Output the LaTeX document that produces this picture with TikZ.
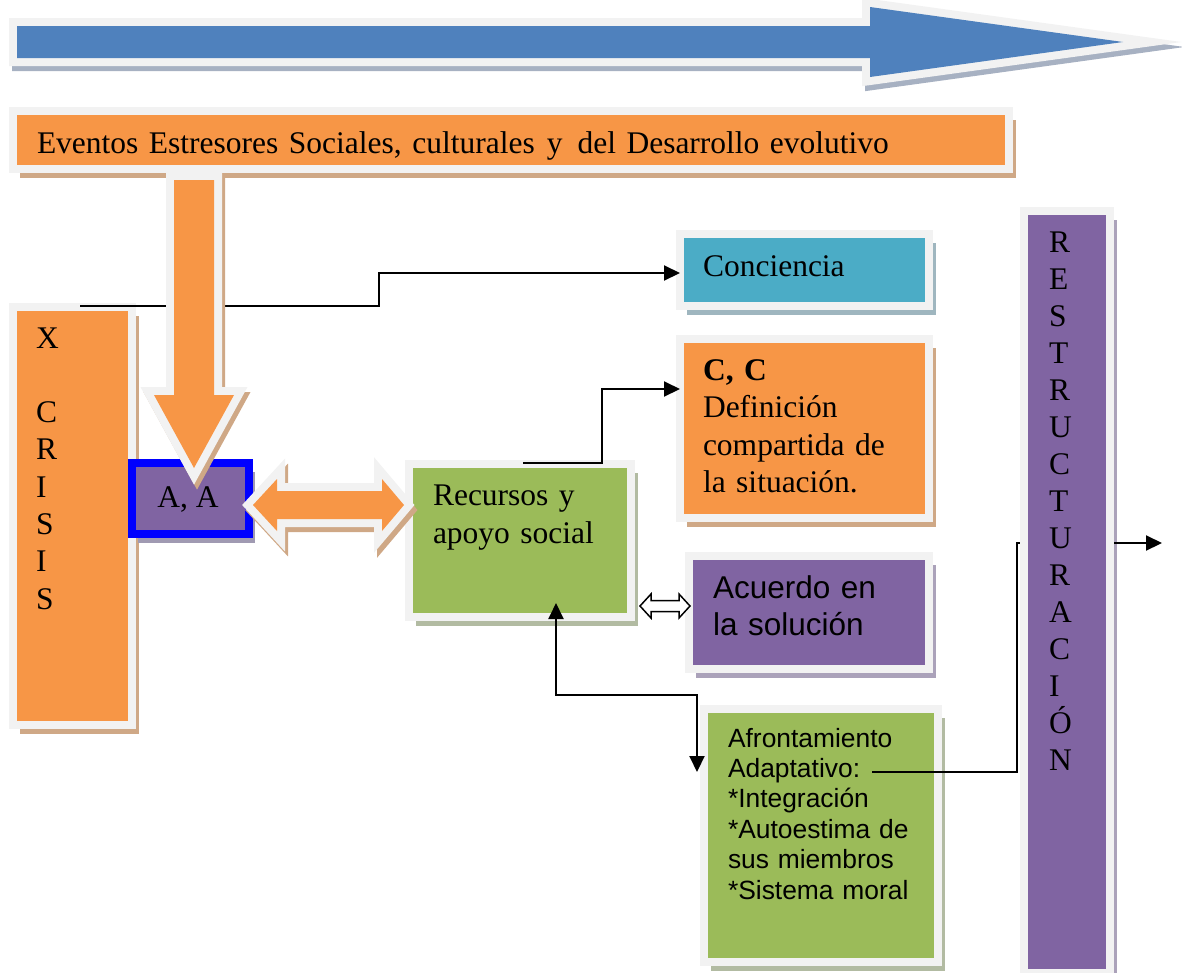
\documentclass[tikz,border=0pt]{standalone}
\usepackage{fontspec}
\setmainfont{Liberation Serif}
\newfontfamily\arialfont{Liberation Sans}
\usetikzlibrary{arrows.meta,shadows}
\definecolor{framegrey}{HTML}{F2F2F2}
\definecolor{boxorange}{HTML}{F79646}
\definecolor{orsh}{HTML}{CFA886}
\definecolor{boxgreen}{HTML}{9BBB59}
\definecolor{grsh}{HTML}{B2BBA2}
\definecolor{boxpurple}{HTML}{8064A2}
\definecolor{pusm}{HTML}{ABA2BA}
\definecolor{boxteal}{HTML}{4BACC6}
\definecolor{tesh}{HTML}{9FB6BF}
\definecolor{arrowblue}{HTML}{4F81BD}
\definecolor{blsh}{HTML}{A7B1C2}
\definecolor{aaborder}{HTML}{0000FF}
\definecolor{aash}{HTML}{A09AB2}
\begin{document}
\begin{tikzpicture}[x=1pt, y=-1pt,
  panel/.style 2 args={rectangle, inner sep=0pt, outer sep=0pt, anchor=north west,
    draw=framegrey, line width=8pt, fill=#1,
    drop shadow={shadow xshift=7pt, shadow yshift=-9pt, fill=#2, opacity=1}},
  blockarrow/.style 2 args={fill=#1,
    preaction={draw=#2, fill=#2, line width=16pt, transform canvas={shift={(3pt,-5pt)}}},
    preaction={draw=framegrey, line width=16pt}},
  link/.style={draw=black, line width=2pt},
  arrowto/.style={-{Triangle[length=16pt,width=15pt]}},
  arrowboth/.style={{Triangle[length=16pt,width=15pt]}-{Triangle[length=16pt,width=15pt]}},
  txt/.style={inner sep=0pt, outer sep=0pt, text width=400pt, align=left, anchor=base west},
  serif/.style={txt, font=\fontsize{31.5}{37.5}\selectfont},
  sans/.style={txt, font=\arialfont\fontsize{31.5}{37}\selectfont},
  smallsans/.style={txt, font=\arialfont\fontsize{26.4}{30.4}\selectfont}]

\useasboundingbox (0,0) rectangle (1182,972);

% panels: grey frame, coloured body, drop shadow
\node[panel={boxorange}{orsh}, minimum width=996pt, minimum height=58pt] (banner) at (13,111) {};
\node[panel={boxorange}{orsh}, minimum width=119pt, minimum height=418pt] (crisis) at (13,307) {};
\node[panel={boxteal}{tesh}, minimum width=249pt, minimum height=72pt] (con) at (680,234) {};
\node[panel={boxorange}{orsh}, minimum width=249pt, minimum height=179pt] (cc) at (680,339) {};
\node[panel={boxgreen}{grsh}, minimum width=222pt, minimum height=153pt] (rec) at (409,464) {};
\node[panel={boxpurple}{pusm}, minimum width=240pt, minimum height=113pt] (acu) at (689,556) {};
\node[panel={boxgreen}{grsh}, minimum width=234pt, minimum height=253pt] (afr) at (704,709) {};
\node[panel={boxpurple}{pusm}, minimum width=86pt, minimum height=762pt] (res) at (1024,211) {};

% A, A box with blue border
\node[rectangle, inner sep=0pt, outer sep=0pt, anchor=north west, draw=aaborder, line width=8pt,
  fill=boxpurple, minimum width=117pt, minimum height=71pt,
  drop shadow={shadow xshift=6pt, shadow yshift=-9pt, fill=aash, opacity=1}] (aa) at (132,463) {};

% connectors
\coordinate (cstart) at ([shift={(7.5,-1)}]crisis.north);
\coordinate (cend) at ([shift={(0,3)}]con.west);
\draw[link, arrowto] (cstart) -- ++(299,0) |- (cend);

\coordinate (rstart) at ([shift={(3,-1)}]rec.north);
\coordinate (rend) at ([shift={(0,-39.5)}]cc.west);
\draw[link, arrowto] (rstart) -- ++(79,0) |- (rend);

\coordinate (ra) at ([shift={(36,-14)}]rec.south);
\coordinate (ab) at ([shift={(-7,-63.5)}]afr.west);
\draw[link, arrowboth] (ra) -- ++(0,92) -| (ab);

\coordinate (adapt) at ([shift={(168,63)}]afr.north west);
\coordinate (rin) at ([shift={(-4,-49)}]res.west);
\draw[link] (adapt) -- ++(145,0) |- (rin);

\coordinate (rout) at ([shift={(4,-49)}]res.east);
\coordinate (out) at (1162,543);
\draw[link, arrowto] (rout) -- (out);

% hollow double arrow between Recursos and Acuerdo
\coordinate (d1) at ([shift={(9,65.5)}]rec.east);
\coordinate (d2) at ([shift={(1,-6.5)}]acu.west);
\draw[line width=1.5pt, fill=white] (d1) -- ++(11,-12) -- ++(0,6.5) -- ++(28,0) -- ++(0,-6.5)
  -- (d2) -- ++(-11,12) -- ++(0,-6.5) -- ++(-28,0) -- ++(0,6.5) -- cycle;

% block arrows
\path[blockarrow={arrowblue}{blsh}] (17,26) -- (870,26) -- (870,7) -- (1123,42) -- (870,77)
  -- (870,58) -- (17,58) -- cycle;
\path[blockarrow={boxorange}{orsh}, miter limit=2] (174,180) -- (214,180) -- (214,395) -- (234,395)
  -- (194,468) -- (154,395) -- (174,395) -- cycle;
\path[blockarrow={boxorange}{orsh}] (253,505) -- (277,479) -- (277,491) -- (382,491) -- (382,479)
  -- (404,505) -- (382,531) -- (382,519) -- (277,519) -- (277,531) -- cycle;

% texts
\node[serif, text width=1000pt] (t-banner) at (37,153)
  {Eventos Estresores Sociales, culturales\hspace{12pt}y\hspace{15pt}del Desarrollo evolutivo};
\node[serif, font=\fontsize{31.5}{37.3}\selectfont, text width=60pt] (t-crisis) at (36,348)
  {X\\\mbox{}\\C\\R\\I\\S\\I\\S};
\node[serif, anchor=base, text width=] (t-aa) at (188,507) {A, A};
\node[serif] (t-con) at (703,276) {Conciencia};
\node[serif] (t-cc) at (703,380) {\textbf{C, C}\\Definición\\compartida de\\la situación.};
\node[serif, font=\fontsize{31.5}{38}\selectfont] (t-rec) at (433,505) {Recursos y\\apoyo social};
\node[sans] (t-acu) at (713,598) {Acuerdo en\\la solución};
\node[smallsans] (t-afr) at (728,747)
  {Afrontamiento\\Adaptativo:\\{*}Integración\\{*}Autoestima de\\sus miembros\\{*}Sistema moral};
\node[serif, font=\fontsize{31.5}{37}\selectfont, text width=60pt] (t-res) at (1049,252)
  {R\\E\\S\\T\\R\\U\\C\\T\\U\\R\\A\\C\\I\\Ó\\N};
\end{tikzpicture}
\end{document}
